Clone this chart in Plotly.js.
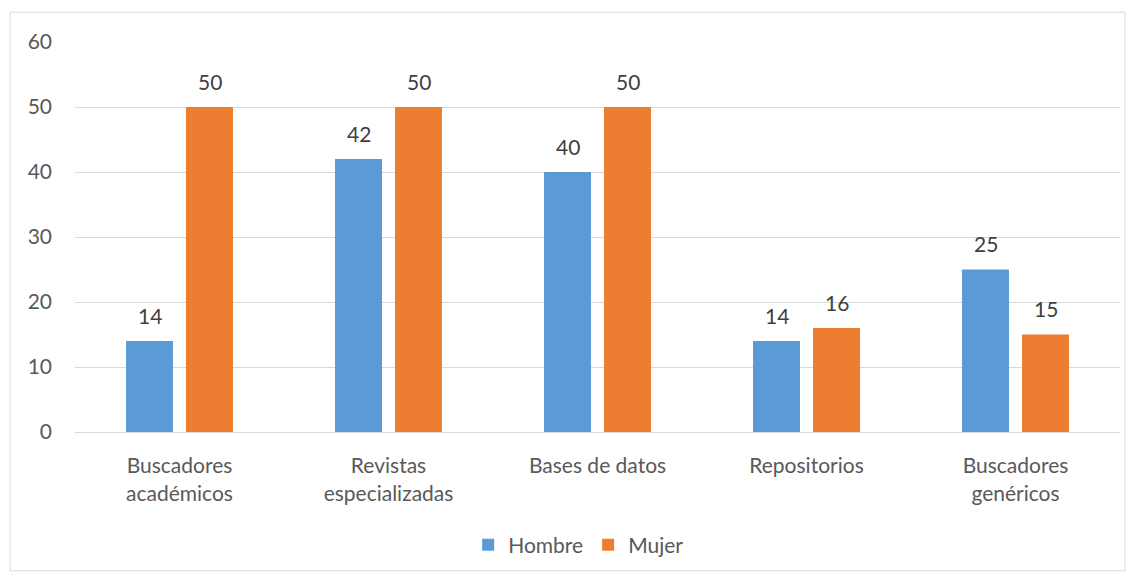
<!DOCTYPE html>
<html>
<head>
<meta charset="utf-8">
<script src="https://cdn.plot.ly/plotly-3.0.1.min.js"></script>
<style>html,body{margin:0;padding:0;background:#fff;}#chart{width:1136px;height:577px;}</style>
</head>
<body>
<div id="chart"></div>
<script>
var categories = ["Buscadores<br>académicos", "Revistas<br>especializadas", "Bases de datos", "Repositorios", "Buscadores<br>genéricos"];
var hombre = [14, 42, 40, 14, 25];
var mujer = [50, 50, 50, 16, 15];
var seriesNames = ["Hombre", "Mujer"];
var yTicks = [0, 10, 20, 30, 40, 50, 60];

var font = "Lato, 'Open Sans', sans-serif";
var colors = ["#5b9bd5", "#ed7d31"];
var series = [hombre, mujer];
var shifts = [-30, 30];

var data = series.map(function (vals, i) {
  return {
    type: "bar", name: seriesNames[i], x: categories, y: vals,
    marker: {color: colors[i]}, hoverinfo: "none"
  };
});

var annotations = [];
series.forEach(function (vals, i) {
  vals.forEach(function (v, j) {
    annotations.push({
      x: categories[j], y: v, xref: "x", yref: "y",
      text: String(v), showarrow: false,
      xshift: shifts[i], yshift: 26, yanchor: "middle", xanchor: "center",
      font: {family: font, size: 21, color: "#404040"}
    });
  });
});

var layout = {
  width: 1136, height: 577,
  margin: {l: 75, r: 16, t: 42, b: 143},
  paper_bgcolor: "#fff", plot_bgcolor: "#fff",
  barmode: "group", bargap: 0.426, bargroupgap: 0.217,
  font: {family: font, size: 21, color: "#595959"},
  xaxis: {showgrid: false, showline: true, linecolor: "#d9d9d9", linewidth: 1,
          ticks: "", ticklabelstandoff: 15, tickfont: {size: 21, color: "#595959"}},
  yaxis: {range: [0, 60], tickvals: yTicks, showgrid: true, gridcolor: "#d9d9d9", gridwidth: 1,
          zeroline: false, showline: false, ticks: "", ticklabelstandoff: 22,
          tickfont: {size: 21, color: "#595959"}},
  showlegend: true,
  legend: {orientation: "h", x: 0.482, xanchor: "center", y: -0.29, yanchor: "middle",
           font: {size: 21, color: "#595959"}, itemwidth: 30, traceorder: "normal"},
  annotations: annotations,
  shapes: [{type: "rect", xref: "paper", yref: "paper", x0: -0.0622, x1: 1.0048, y0: -0.356, y1: 1.0765,
            line: {color: "#d9d9d9", width: 1}, fillcolor: "rgba(0,0,0,0)", layer: "below"}]
};
Plotly.newPlot("chart", data, layout, {displayModeBar: false, staticPlot: true});
</script>
</body>
</html>
